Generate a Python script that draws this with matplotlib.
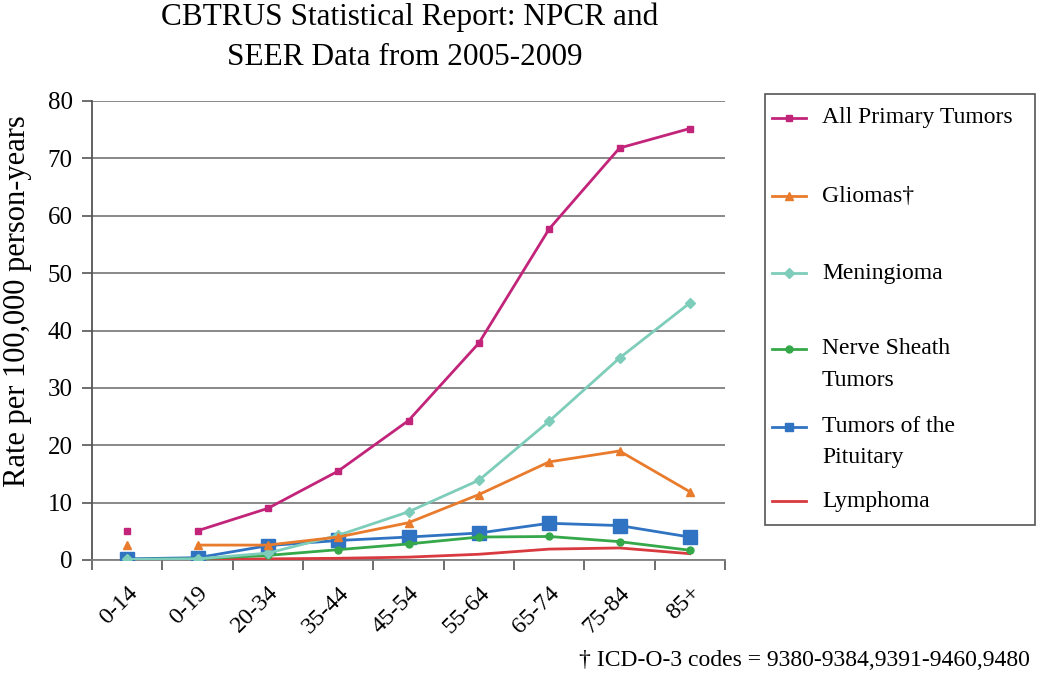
import numpy as np
import matplotlib
matplotlib.use("Agg")
import matplotlib.pyplot as plt
from matplotlib.lines import Line2D
from matplotlib.patches import Rectangle

plt.rcParams["font.family"] = ["Liberation Serif", "DejaVu Serif"]

age_groups = ["0-14", "0-19", "20-34", "35-44", "45-54", "55-64", "65-74", "75-84", "85+"]

all_primary = [5.0, 5.1, 9.0, 15.5, 24.3, 37.8, 57.7, 71.8, 75.2]
gliomas = [2.7, 2.6, 2.6, 4.0, 6.5, 11.4, 17.1, 19.0, 11.9]
meningioma = [0.1, 0.2, 1.2, 4.3, 8.4, 13.9, 24.2, 35.2, 44.8]
nerve_sheath = [0.1, 0.2, 0.8, 1.8, 2.8, 4.0, 4.1, 3.2, 1.7]
pituitary = [0.2, 0.4, 2.5, 3.4, 4.0, 4.7, 6.4, 6.0, 4.0]
lymphoma = [0.1, 0.1, 0.2, 0.3, 0.5, 1.0, 1.9, 2.1, 1.1]

# label lines, colour, marker, marker size, first point detached?
series = [
    (["All Primary Tumors"], all_primary, "#C2247A", "s", 5, True),
    (["Gliomas†"], gliomas, "#E97B2C", "^", 6, True),
    (["Meningioma"], meningioma, "#7DCDBA", "D", 5, False),
    (["Nerve Sheath", "Tumors"], nerve_sheath, "#35A84A", "o", 5, False),
    (["Tumors of the", "Pituitary"], pituitary, "#2F73C2", "s", 10, False),
    (["Lymphoma"], lymphoma, "#D83A3F", "None", 0, False),
]

W, H = 1050, 678
fig = plt.figure(figsize=(W / 100, H / 100), dpi=100)
ax = fig.add_axes([92 / W, 1 - 560 / H, (725 - 92) / W, (560 - 101) / H])

x = np.arange(len(age_groups))
# back to front like the original
for labels, vals, color, mk, ms, detached in reversed(series):
    vals = np.array(vals, dtype=float)
    if detached:
        ax.plot(x[:1], vals[:1], color=color, marker=mk, ms=ms, lw=0, zorder=3)
        ax.plot(x[1:], vals[1:], color=color, marker=mk, ms=ms, lw=2, zorder=3)
    else:
        ax.plot(x, vals, color=color, marker=mk, ms=ms, lw=2, zorder=3)

ax.set_xlim(-0.5, len(age_groups) - 0.5)
ax.set_ylim(0, 80)
ax.set_yticks(np.arange(0, 81, 10))
ax.yaxis.grid(True, color="#7f7f7f", lw=1.3)
ax.set_axisbelow(True)
ax.tick_params(axis="y", labelsize=18, length=7, color="#555555", width=1.2, pad=7)

ax.set_xticks(x)
ax.set_xticklabels(age_groups, rotation=45, ha="right", rotation_mode="anchor", fontsize=17.5)
ax.set_xticks(np.arange(-0.5, len(age_groups), 1), minor=True)
ax.tick_params(axis="x", which="major", length=0, pad=16)
ax.tick_params(axis="x", which="minor", length=7, color="#555555", width=1.2)

for s in ["top", "right"]:
    ax.spines[s].set_visible(False)
ax.spines["left"].set_color("#555555")
ax.spines["left"].set_linewidth(1.3)
ax.spines["bottom"].set_color("#7f7f7f")
ax.spines["bottom"].set_linewidth(1.3)

ax.set_ylabel("Rate per 100,000 person-years", fontsize=22)
ax.yaxis.set_label_coords(-0.094, 0.564)

fig.text(410 / W, 1 - 25 / H, "CBTRUS Statistical Report: NPCR and", ha="center", va="baseline", fontsize=22.5)
fig.text(405 / W, 1 - 65 / H, "SEER Data from 2005-2009", ha="center", va="baseline", fontsize=22.5)

fig.text(1030 / W, 1 - 661 / H, "† ICD-O-3 codes = 9380-9384,9391-9460,9480",
         ha="right", va="center", fontsize=17)

# legend box
fig.add_artist(Rectangle((765 / W, 1 - 525 / H), (1035 - 765) / W, (525 - 94) / H,
                         transform=fig.transFigure, fill=False, ec="#555555", lw=1.2))
row_y = [118, 196, 273, 349, 427, 501]
line_gap = 31
for (labels, vals, color, mk, ms, detached), py in zip(series, row_y):
    yf = 1 - py / H
    fig.add_artist(Line2D([772 / W, 806 / W], [yf, yf], transform=fig.transFigure,
                          color=color, lw=2, marker="None"))
    if mk != "None":
        fig.add_artist(Line2D([789 / W], [yf], transform=fig.transFigure,
                              color=color, marker=mk, ms=min(ms, 6), lw=0))
    for k, line in enumerate(labels):
        fig.text(822 / W, 1 - (py + k * line_gap) / H, line, ha="left", va="center", fontsize=17)

fig.savefig("out.png", dpi=100, facecolor="white")
